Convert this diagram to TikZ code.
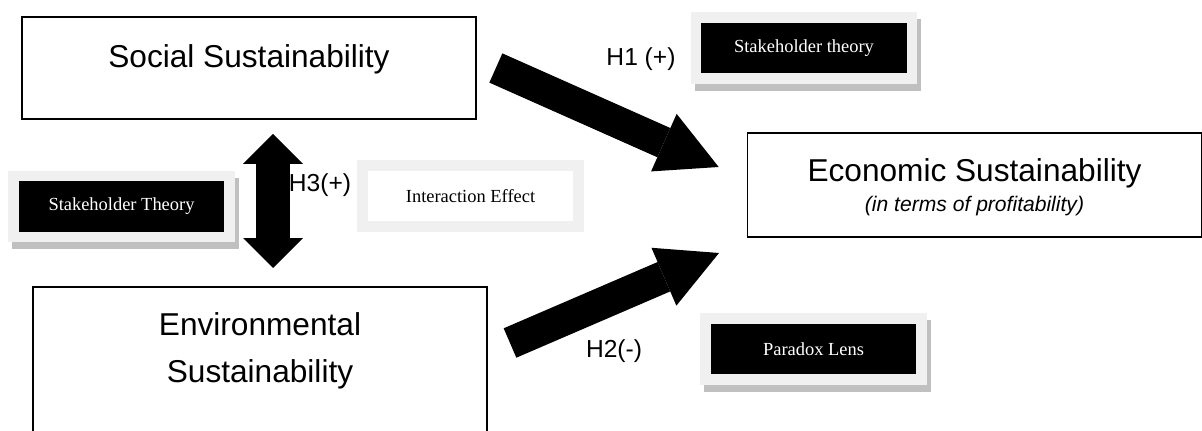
\documentclass[tikz,border=0pt]{standalone}
\usepackage{fontspec}
\setmainfont{Liberation Serif}
\newfontfamily\arialfont{Liberation Sans}
\usepackage{tikz}
\usetikzlibrary{arrows.meta,positioning}
\definecolor{framegray}{RGB}{240,240,240}
\definecolor{shadegray}{RGB}{192,192,192}

\begin{document}
\begin{tikzpicture}[x=0.02cm,y=-0.02cm,
    sustbox/.style={draw,line width=1pt,minimum width=9.08cm,align=center,
      font=\arialfont\fontsize{18}{27}\selectfont},
    framebox/.style={draw=framegray,line width=0.21cm,minimum width=4.32cm,
      minimum height=1.22cm,font=\fontsize{10.5}{12}\selectfont},
    theorybox/.style={framebox,fill=black,text=white,
      preaction={draw=shadegray,transform canvas={shift={(0.08cm,-0.14cm)}}}},
    effectbox/.style={framebox,fill=white,text=black},
    hyp/.style={font=\arialfont\fontsize{14}{16}\selectfont},
    bigarrow/.style={line width=0.64cm,
      -{Triangle[length=1.2cm,width=1.26cm,line width=0pt]}},
    dblarrow/.style={line width=0.68cm,
      {Triangle[length=0.6cm,width=1.2cm,line width=0pt]}-{Triangle[length=0.6cm,width=1.2cm,line width=0pt]}}]
    \clip (0,0) rectangle (1202,431);

    % Constructs
    \node[sustbox,minimum height=2.04cm,text height=0.4cm,text depth=0.4cm] (soc) at (249,68) {Social Sustainability};
    \node[sustbox,minimum height=2.08cm,text height=0.4cm,text depth=0.52cm] (eco) at (974.5,185) {Economic Sustainability};
    \node[anchor=base,font=\arialfont\itshape\fontsize{12}{14}\selectfont] (ecosub) at ([yshift=-0.54cm]eco.center) {(in terms of profitability)};
    \node[sustbox,minimum height=3cm,text depth=0.58cm] (env) at (260,362) {Environmental\\Sustainability};

    % Theories
    \node[theorybox] (st1) at (804,48) {Stakeholder theory};
    \node[theorybox] (st2) at (121.5,206.5) {Stakeholder Theory};
    \node[effectbox] (ie) at (470.5,196) {Interaction Effect};
    \node[theorybox] (pl) at (813.5,349) {Paradox Lens};

    % Hypotheses
    \node[hyp] (h1) at (641,59) {H1 (+)};
    \node[hyp] (h2) at (614,351) {H2(-)};
    \node[hyp] (h3) at (320,185) {H3(+)};

    \coordinate (h1tail) at ([xshift=0.38cm]soc.east);
    \coordinate (h1tip) at ([xshift=-0.56cm,yshift=0.36cm]eco.west);
    \coordinate (h2tail) at (510,343);
    \coordinate (h2tip) at (719,253);
    \coordinate (h3top) at (273,134);
    \coordinate (h3bot) at (273,268);

    \draw[bigarrow] (h1tail) -- (h1tip);
    \draw[bigarrow] (h2tail) -- (h2tip);
    \draw[dblarrow] (h3top) -- (h3bot);
\end{tikzpicture}
\end{document}
